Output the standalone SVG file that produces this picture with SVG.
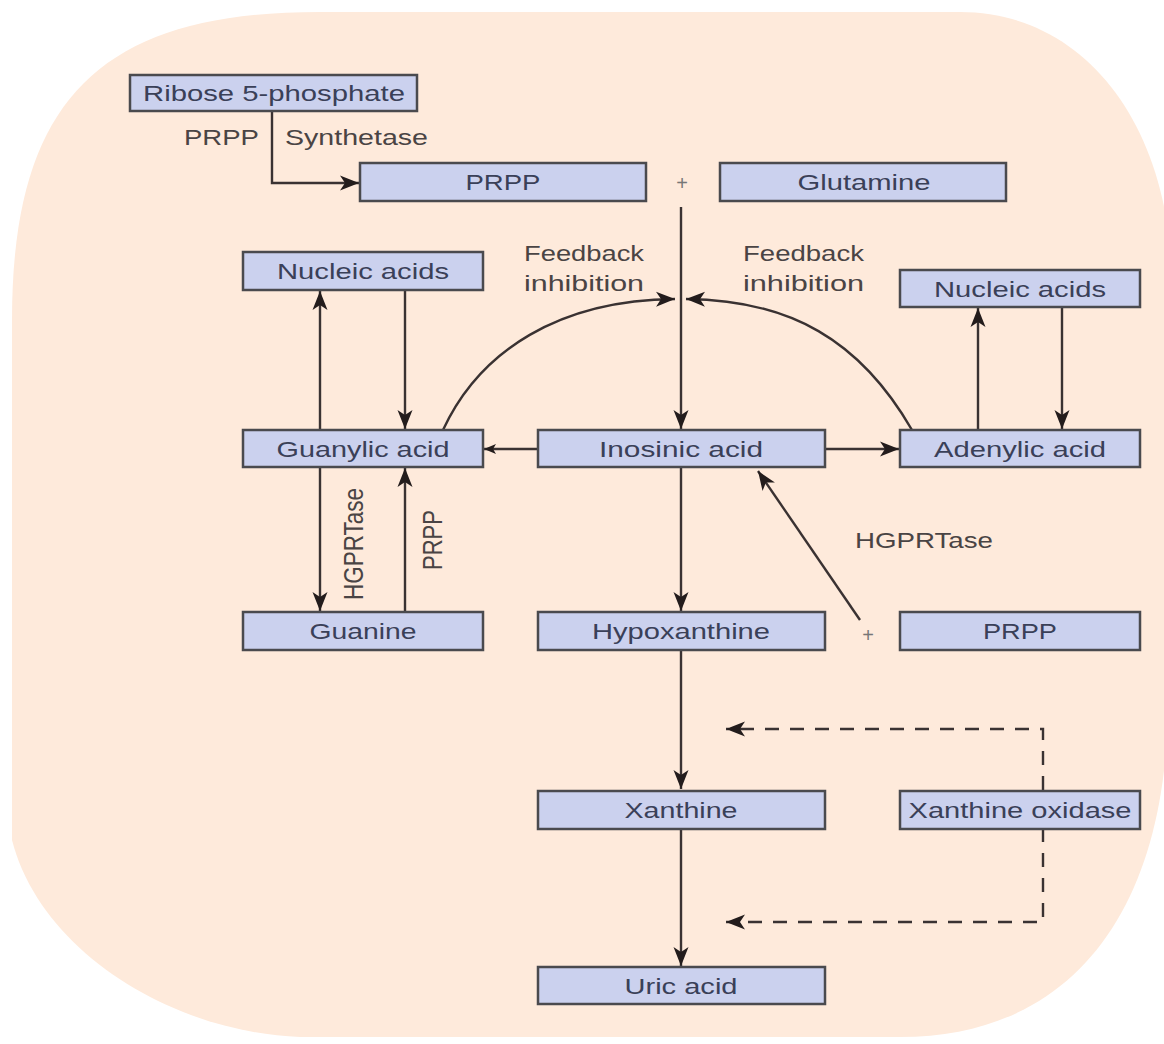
<svg xmlns="http://www.w3.org/2000/svg" width="1164" height="1044" viewBox="0 0 1164 1044">
<style>
.box{fill:#cbd1ee;stroke:#4a4a4e;stroke-width:2.5}
.nt{font-family:"Liberation Sans",Arial,sans-serif;font-size:22px;fill:#3a4058;text-anchor:middle}
.lb{font-family:"Liberation Sans",Arial,sans-serif;font-size:22px;fill:#4a4444}
.ln{fill:none;stroke:#3a3232;stroke-width:2.4}
.dash{fill:none;stroke:#3a3232;stroke-width:2.4;stroke-dasharray:14 11}
.plus{font-family:"Liberation Sans",Arial,sans-serif;font-size:20px;fill:#777;text-anchor:middle}
</style>
<defs>
<marker id="ah" markerUnits="userSpaceOnUse" markerWidth="22" markerHeight="18" refX="19" refY="9" orient="auto">
<path d="M0,1.5 L19,9 L0,16.5 L5,9 Z" fill="#231c1c"/>
</marker>
<marker id="ahs" markerUnits="userSpaceOnUse" markerWidth="14" markerHeight="12" refX="12" refY="6" orient="auto">
<path d="M0,1 L12,6 L0,11 L3,6 Z" fill="#231c1c"/>
</marker>
</defs>
<path d="M12,320 C12,100 100,12 320,12 L960,12 C1070,12 1150,100 1168,230 L1168,700 C1168,900 1080,1037 900,1037 L300,1037 C170,1032 40,950 12,840 Z" fill="#feeadb"/>

<g id="connectors">
<path class="ln" d="M272,111 V183 H359" marker-end="url(#ah)"/>
<path class="ln" d="M681,207 V429" marker-end="url(#ah)"/>
<path class="ln" d="M443,430 C480,350 560,300 675,299" marker-end="url(#ah)"/>
<path class="ln" d="M912,430 C860,340 790,300 686,299" marker-end="url(#ah)"/>
<path class="ln" d="M320,430 V291" marker-end="url(#ah)"/>
<path class="ln" d="M405,291 V429" marker-end="url(#ah)"/>
<path class="ln" d="M978,430 V308" marker-end="url(#ah)"/>
<path class="ln" d="M1062,308 V429" marker-end="url(#ah)"/>
<path class="ln" d="M538,449 H484" marker-end="url(#ahs)"/>
<path class="ln" d="M825,449 H899" marker-end="url(#ah)"/>
<path class="ln" d="M320,467 V611" marker-end="url(#ah)"/>
<path class="ln" d="M405,612 V468" marker-end="url(#ah)"/>
<path class="ln" d="M681,467 V611" marker-end="url(#ah)"/>
<path class="ln" d="M860,620 L758,471" marker-end="url(#ah)"/>
<path class="ln" d="M681,650 V789" marker-end="url(#ah)"/>
<path class="ln" d="M681,828 V966" marker-end="url(#ah)"/>
<path class="dash" d="M1043,790 V729 H726" marker-end="url(#ah)"/>
<path class="dash" d="M1043,828 V922 H726" marker-end="url(#ah)"/>
</g>

<g id="labels">
<text class="lb" x="184" y="145" textLength="75" lengthAdjust="spacingAndGlyphs">PRPP</text>
<text class="lb" x="285" y="145" textLength="143" lengthAdjust="spacingAndGlyphs">Synthetase</text>
<text class="lb" x="524" y="261" textLength="120" lengthAdjust="spacingAndGlyphs">Feedback</text>
<text class="lb" x="524" y="291" textLength="120" lengthAdjust="spacingAndGlyphs">inhibition</text>
<text class="lb" x="743" y="261" textLength="121" lengthAdjust="spacingAndGlyphs">Feedback</text>
<text class="lb" x="743" y="291" textLength="121" lengthAdjust="spacingAndGlyphs">inhibition</text>
<text class="lb" x="855" y="548" textLength="138" lengthAdjust="spacingAndGlyphs">HGPRTase</text>
<text class="lb" transform="translate(363,544) rotate(-90) scale(1,1.24)" text-anchor="middle" textLength="112" lengthAdjust="spacingAndGlyphs">HGPRTase</text>
<text class="lb" transform="translate(442,540) rotate(-90) scale(1,1.24)" text-anchor="middle" textLength="60" lengthAdjust="spacingAndGlyphs">PRPP</text>
<text class="plus" x="682" y="190">+</text>
<text class="plus" x="868" y="642">+</text>
</g>

<g id="n-ribose"><rect class="box" x="130" y="75" width="287" height="36"/><text class="nt" x="274" y="101" textLength="262" lengthAdjust="spacingAndGlyphs">Ribose 5-phosphate</text></g>
<g id="n-prpp1"><rect class="box" x="360" y="163" width="286" height="38"/><text class="nt" x="503" y="190" textLength="75" lengthAdjust="spacingAndGlyphs">PRPP</text></g>
<g id="n-glutamine"><rect class="box" x="720" y="163" width="286" height="38"/><text class="nt" x="864" y="190" textLength="133" lengthAdjust="spacingAndGlyphs">Glutamine</text></g>
<g id="n-nucleic-l"><rect class="box" x="243" y="252" width="240" height="38"/><text class="nt" x="363" y="279" textLength="172" lengthAdjust="spacingAndGlyphs">Nucleic acids</text></g>
<g id="n-nucleic-r"><rect class="box" x="900" y="270" width="240" height="37"/><text class="nt" x="1020" y="297" textLength="172" lengthAdjust="spacingAndGlyphs">Nucleic acids</text></g>
<g id="n-guanylic"><rect class="box" x="243" y="430" width="240" height="37"/><text class="nt" x="363" y="457" textLength="173" lengthAdjust="spacingAndGlyphs">Guanylic acid</text></g>
<g id="n-inosinic"><rect class="box" x="538" y="430" width="287" height="37"/><text class="nt" x="681" y="457" textLength="164" lengthAdjust="spacingAndGlyphs">Inosinic acid</text></g>
<g id="n-adenylic"><rect class="box" x="900" y="430" width="240" height="37"/><text class="nt" x="1020" y="457" textLength="172" lengthAdjust="spacingAndGlyphs">Adenylic acid</text></g>
<g id="n-guanine"><rect class="box" x="243" y="612" width="240" height="38"/><text class="nt" x="363" y="639" textLength="107" lengthAdjust="spacingAndGlyphs">Guanine</text></g>
<g id="n-hypoxanthine"><rect class="box" x="538" y="612" width="287" height="38"/><text class="nt" x="681" y="639" textLength="178" lengthAdjust="spacingAndGlyphs">Hypoxanthine</text></g>
<g id="n-prpp2"><rect class="box" x="900" y="612" width="240" height="38"/><text class="nt" x="1020" y="639" textLength="74" lengthAdjust="spacingAndGlyphs">PRPP</text></g>
<g id="n-xanthine"><rect class="box" x="538" y="791" width="287" height="38"/><text class="nt" x="681" y="818" textLength="113" lengthAdjust="spacingAndGlyphs">Xanthine</text></g>
<g id="n-xo"><rect class="box" x="900" y="791" width="240" height="38"/><text class="nt" x="1020" y="818" textLength="223" lengthAdjust="spacingAndGlyphs">Xanthine oxidase</text></g>
<g id="n-uric"><rect class="box" x="538" y="967" width="287" height="37"/><text class="nt" x="681" y="994" textLength="113" lengthAdjust="spacingAndGlyphs">Uric acid</text></g>
</svg>
